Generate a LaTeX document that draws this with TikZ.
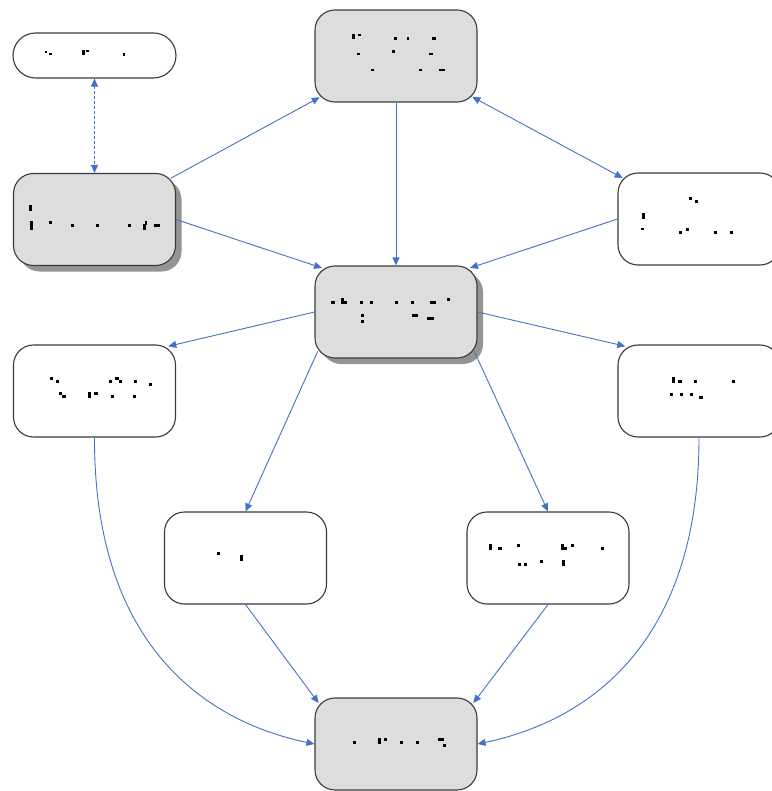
\documentclass[tikz,border=0pt]{standalone}
\usetikzlibrary{arrows.meta,shadows}
\definecolor{lnk}{HTML}{4472C4}
\definecolor{boxfill}{HTML}{DDDDDD}
\definecolor{boxline}{HTML}{3A3A3A}
\newcommand\dt[4]{\fill[black] (#1,#2) rectangle ++(#3,#4);}
\begin{document}
\begin{tikzpicture}[x=1pt,y=-1pt,
  box/.style={draw=boxline, line width=1.1pt, rounded corners=20pt, minimum width=162pt, minimum height=92pt, inner sep=0pt, fill=white},
  graybox/.style={box, fill=boxfill},
  shadowed/.style={drop shadow={shadow xshift=6pt, shadow yshift=-6pt, fill=black!42, opacity=1}},
  pill/.style={draw=boxline, line width=1.1pt, rounded corners=22.5pt, minimum width=163pt, minimum height=45pt, inner sep=0pt, fill=white},
  link/.style={draw=lnk, line width=0.9pt, -{Triangle[length=8pt,width=7pt]}},
  dlink/.style={draw=lnk, line width=0.9pt, {Triangle[length=8pt,width=7pt]}-{Triangle[length=8pt,width=7pt]}},
  cs/.style={shorten <=-#1},
  ce/.style={shorten >=-#1},
]
\useasboundingbox (0,0) rectangle (771,791);
% nodes
\node[pill] (a) at (94.5,55.5) {};
\node[graybox] (b) at (396,56) {};
\node[graybox, shadowed] (c) at (94.5,219.5) {};
\node[box] (d) at (699,219) {};
\node[graybox, shadowed] (e) at (396,312) {};
\node[box] (f) at (94.5,391) {};
\node[box] (g) at (699,391) {};
\node[box] (h) at (245.5,558) {};
\node[box] (i) at (548,558) {};
\node[graybox] (j) at (396,744) {};
% connectors
\draw[dlink, dash pattern=on 3pt off 2pt] (a) -- (c);
\draw[link, cs=6pt, ce=6pt] (c) -- (b);
\draw[link, ce=8pt] (c.east) -- (e.north west);
\draw[link] (b) -- (e);
\draw[dlink, cs=6pt, ce=6pt] (b) -- (d);
\draw[link, ce=8pt] (d.west) -- (e.north east);
\draw[link, ce=8pt] (e.west) -- (f.north east);
\draw[link, ce=8pt] (e.east) -- (g.north west);
\draw[link, cs=8pt] (e.south west) -- (h.north);
\draw[link, cs=8pt] (e.south east) -- (i.north);
\draw[link, ce=7pt] (h.south) -- (j.north west);
\draw[link, ce=7pt] (i.south) -- (j.north east);
\draw[link] (f.south) .. controls (94,640) and (200,720) .. (j.west);
\draw[link] (g.south) .. controls (699,640) and (592,720) .. (j.east);
% text marks (illegible in the reference)
% a
\dt{45}{51}{2}{2}\dt{49}{53}{3}{2}\dt{82}{50}{3}{5}\dt{86}{50}{3}{2}\dt{123}{53}{2}{3}
% b
\dt{352}{34}{3}{5}\dt{358}{34}{3}{2}\dt{394}{37}{3}{3}\dt{407}{37}{2}{3}\dt{432}{37}{4}{3}
\dt{357}{53}{3}{2}\dt{392}{50}{3}{3}\dt{429}{53}{4}{2}
\dt{371}{69}{3}{2}\dt{419}{69}{3}{2}\dt{439}{69}{6}{2}
% c
\dt{29}{205}{3}{6}\dt{30}{221}{3}{9}\dt{49}{221}{3}{3}\dt{71}{224}{3}{3}\dt{96}{224}{3}{3}\dt{128}{224}{3}{3}
\dt{143}{224}{3}{6}\dt{145}{221}{2}{4}\dt{154}{224}{6}{3}
% d
\dt{689}{197}{3}{3}\dt{695}{200}{3}{3}\dt{642}{213}{3}{6}\dt{641}{228}{3}{2}
\dt{679}{231}{3}{3}\dt{686}{228}{3}{3}\dt{714}{231}{3}{3}\dt{730}{231}{3}{3}
% e
\dt{331}{301}{4}{3}\dt{341}{298}{3}{6}\dt{344}{301}{3}{3}\dt{360}{301}{3}{3}\dt{370}{301}{3}{3}\dt{395}{301}{3}{3}
\dt{411}{301}{3}{3}\dt{430}{301}{6}{3}\dt{447}{298}{3}{3}
\dt{361}{314}{3}{3}\dt{361}{320}{3}{3}\dt{412}{314}{6}{3}\dt{427}{317}{7}{3}
% f
\dt{50}{377}{3}{3}\dt{56}{380}{3}{3}\dt{59}{392}{3}{3}\dt{62}{395}{4}{3}\dt{88}{392}{3}{6}\dt{94}{392}{4}{3}
\dt{109}{380}{3}{3}\dt{115}{377}{4}{3}\dt{119}{380}{3}{3}\dt{134}{380}{3}{3}\dt{149}{383}{3}{3}
\dt{111}{395}{3}{3}\dt{133}{395}{3}{3}
% g
\dt{672}{377}{3}{6}\dt{678}{380}{4}{3}\dt{694}{380}{3}{3}\dt{732}{380}{3}{3}
\dt{670}{393}{3}{3}\dt{680}{393}{3}{3}\dt{690}{393}{3}{3}\dt{699}{396}{4}{3}
% h
\dt{217}{552}{3}{3}\dt{240}{555}{3}{6}
% i
\dt{489}{544}{3}{6}\dt{498}{547}{4}{3}\dt{517}{544}{3}{3}\dt{561}{544}{3}{6}\dt{564}{547}{3}{3}\dt{571}{544}{3}{3}\dt{601}{547}{3}{3}
\dt{518}{563}{3}{3}\dt{524}{563}{3}{3}\dt{540}{560}{3}{3}\dt{562}{560}{3}{6}
% j
\dt{353}{741}{3}{3}\dt{378}{738}{3}{6}\dt{384}{738}{3}{3}\dt{400}{741}{3}{3}\dt{416}{741}{3}{3}\dt{438}{738}{6}{3}\dt{443}{744}{3}{3}
\end{tikzpicture}
\end{document}
